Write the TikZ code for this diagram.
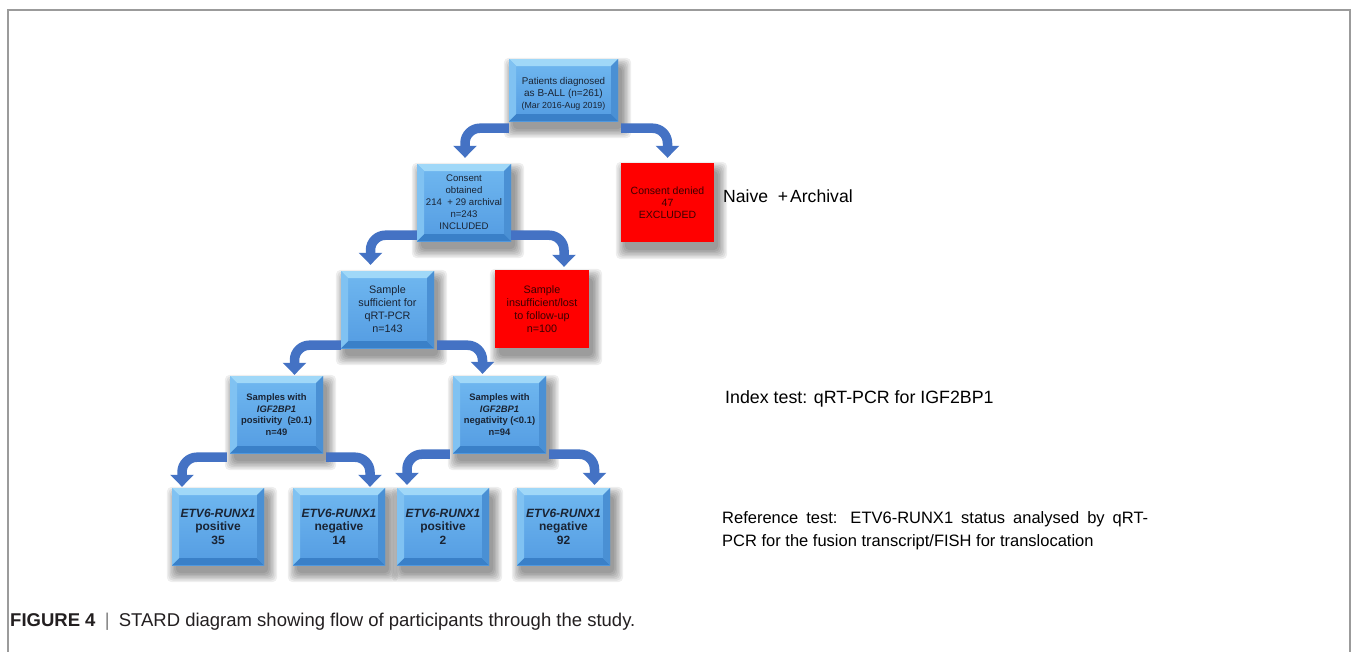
\documentclass[tikz,border=0pt]{standalone}
\usepackage{fontspec}
\setmainfont{Liberation Sans}
\usetikzlibrary{arrows.meta,calc}
\pgfdeclarelayer{background}
\pgfsetlayers{background,main}
\definecolor{arrowblue}{RGB}{68,114,196}
\definecolor{facetop}{RGB}{112,184,240}
\definecolor{facebot}{RGB}{84,156,226}
\definecolor{bvtop}{RGB}{160,216,248}
\definecolor{bvleft}{RGB}{128,194,242}
\definecolor{bvright}{RGB}{74,144,212}
\definecolor{bvbot}{RGB}{58,128,200}
\definecolor{boxtext}{RGB}{26,36,52}
\definecolor{redfill}{RGB}{255,0,0}
\definecolor{redtext}{RGB}{60,0,0}
\definecolor{framegray}{RGB}{155,155,155}
\definecolor{captext}{RGB}{35,31,32}
\newcommand{\setfs}[2]{\fontsize{#1}{#2}\selectfont}
\begin{document}
\begin{tikzpicture}[x=1pt,y=-1pt,
  bluebox/.style={inner sep=0pt, align=center, text=boxtext,
    top color=facetop, bottom color=facebot,
    path picture={
      \fill[bvtop] (path picture bounding box.north west) -- (path picture bounding box.north east)
        -- ([shift={(-7pt,-7pt)}]path picture bounding box.north east) -- ([shift={(7pt,-7pt)}]path picture bounding box.north west) -- cycle;
      \fill[bvbot] (path picture bounding box.south west) -- (path picture bounding box.south east)
        -- ([shift={(-7pt,7pt)}]path picture bounding box.south east) -- ([shift={(7pt,7pt)}]path picture bounding box.south west) -- cycle;
      \fill[bvleft] (path picture bounding box.north west) -- (path picture bounding box.south west)
        -- ([shift={(7pt,7pt)}]path picture bounding box.south west) -- ([shift={(7pt,-7pt)}]path picture bounding box.north west) -- cycle;
      \fill[bvright] (path picture bounding box.north east) -- (path picture bounding box.south east)
        -- ([shift={(-7pt,7pt)}]path picture bounding box.south east) -- ([shift={(-7pt,-7pt)}]path picture bounding box.north east) -- cycle;
    }},
  redbox/.style={inner sep=0pt, align=center, text=redtext, fill=redfill},
  barrow/.style={draw=arrowblue, line width=9.5pt, rounded corners=15pt,
    -{Triangle[width=23pt,length=12pt]}},
  sidetext/.style={anchor=base west, inner sep=0pt, text=black}
]
\useasboundingbox (0,0) rectangle (1356,651);

% boxes
\node[bluebox, minimum width=109pt, minimum height=62pt] (p) at (563.5,90)
  {\setfs{9.8}{12}\rule{0pt}{14pt}Patients diagnosed\\as B-ALL (n=261)\\{\setfs{8.8}{10.5}(Mar 2016-Aug 2019)}};
\node[bluebox, minimum width=94pt, minimum height=77pt, font=\setfs{9.6}{12}] (c) at (464,202.5)
  {Consent\\obtained\\214\ \ + 29 archival\\n=243\\INCLUDED};
\node[redbox, minimum width=93pt, minimum height=79pt, font=\setfs{10.5}{12}] (d) at (667.5,202.5)
  {Consent denied\\47\\EXCLUDED};
\node[bluebox, minimum width=93pt, minimum height=77pt, font=\setfs{10.8}{13}] (s) at (387.5,309.5)
  {Sample\\sufficient for\\qRT-PCR\\n=143};
\node[redbox, minimum width=94pt, minimum height=78pt, font=\setfs{10.8}{13}] (i) at (542,309)
  {Sample\\insufficient/lost\\to follow-up\\n=100};
\node[bluebox, minimum width=93pt, minimum height=77pt, font=\setfs{9.4}{11.7}\bfseries] (pp) at (276.5,414.5)
  {Samples with\\\textit{IGF2BP1}\\positivity\ \ (≥0.1)\\n=49};
\node[bluebox, minimum width=93pt, minimum height=77pt, font=\setfs{9.4}{11.7}\bfseries] (nn) at (499.5,414.5)
  {Samples with\\\textit{IGF2BP1}\\negativity (<0.1)\\n=94};
\node[bluebox, minimum width=92pt, minimum height=77pt, font=\setfs{12}{13.5}\bfseries] (b1) at (218,526.5)
  {\textit{ETV6-RUNX1}\\positive\\35};
\node[bluebox, minimum width=92pt, minimum height=77pt, font=\setfs{12}{13.5}\bfseries] (b2) at (339,526.5)
  {\textit{ETV6-RUNX1}\\negative\\14};
\node[bluebox, minimum width=92pt, minimum height=77pt, font=\setfs{12}{13.5}\bfseries] (b3) at (443,526.5)
  {\textit{ETV6-RUNX1}\\positive\\2};
\node[bluebox, minimum width=93pt, minimum height=77pt, font=\setfs{12}{13.5}\bfseries] (b4) at (563.5,526.5)
  {\textit{ETV6-RUNX1}\\negative\\92};

% background and shadows
\begin{pgfonlayer}{background}
\fill[white] (0,0) rectangle (1356,651);
\foreach \n in {p,c,d,s,i,pp,nn,b1,b2,b3,b4}{
  \foreach \k in {0,...,6}{
    \fill[black,opacity=0.065,rounded corners=5pt]
      ($(\n.north west)+({4-1.5*\k},{8-1.5*\k})$) rectangle ($(\n.south east)+({4+1.5*\k},{8+1.5*\k})$);
  }
}
\end{pgfonlayer}
\draw[framegray, line width=1.3pt] (8,652) -- (8,10) -- (1350,10) -- (1350,652);

% arrows
\coordinate (a1s) at ($(p.south west)+(0,7)$);  \coordinate (a1t) at ($(c.north)+(1,-6)$);
\coordinate (a2s) at ($(p.south east)+(3,7)$);  \coordinate (a2t) at ($(d.north)+(0,-5)$);
\coordinate (a3s) at ($(c.south west)+(0,-6)$); \coordinate (a3t) at ($(s.north)+(-17,-6)$);
\coordinate (a4s) at ($(c.south east)+(0,-6)$); \coordinate (a4t) at ($(i.north)+(22,-3)$);
\coordinate (a5s) at ($(s.south west)+(0,-3)$); \coordinate (a5t) at ($(pp.north)+(18,-1)$);
\coordinate (a6s) at ($(s.south east)+(3,-3)$); \coordinate (a6t) at ($(nn.north)+(-17,-2)$);
\coordinate (a7s) at ($(pp.south west)+(-3,4)$); \coordinate (a7t) at ($(b1.north)+(-36,-1)$);
\coordinate (a8s) at ($(pp.south east)+(3,4)$);  \coordinate (a8t) at ($(b2.north)+(31,-1)$);
\coordinate (a9s) at ($(nn.south west)+(-3,1)$); \coordinate (a9t) at ($(b3.north)+(-36,-3)$);
\coordinate (a10s) at ($(nn.south east)+(3,1)$); \coordinate (a10t) at ($(b4.north)+(31,-3)$);
\foreach \a in {1,...,10}{ \draw[barrow] (a\a s) -| (a\a t); }

% side texts
\node[sidetext, font=\setfs{17.6}{20}] (t1) at (723,202) {Naive~~+\hspace{-3pt} Archival};
\node[sidetext, font=\setfs{17.8}{20}] (t2) at (725,403) {Index test: qRT-PCR for IGF2BP1};
\node[anchor=north west, inner sep=0pt, text width=426pt, align=justify, font=\setfs{16.5}{23}] (t3) at (722,511)
  {Reference test: ETV6-RUNX1 status analysed by qRT-\linebreak PCR for the fusion transcript/FISH for translocation};

% caption
\node[anchor=base west, inner sep=0pt, text=captext, font=\setfs{18.5}{22}] (cap) at (10,626)
  {\textbf{FIGURE 4}\enspace{\color{gray}|}\enspace STARD diagram showing flow of participants through the study.};
\end{tikzpicture}
\end{document}
